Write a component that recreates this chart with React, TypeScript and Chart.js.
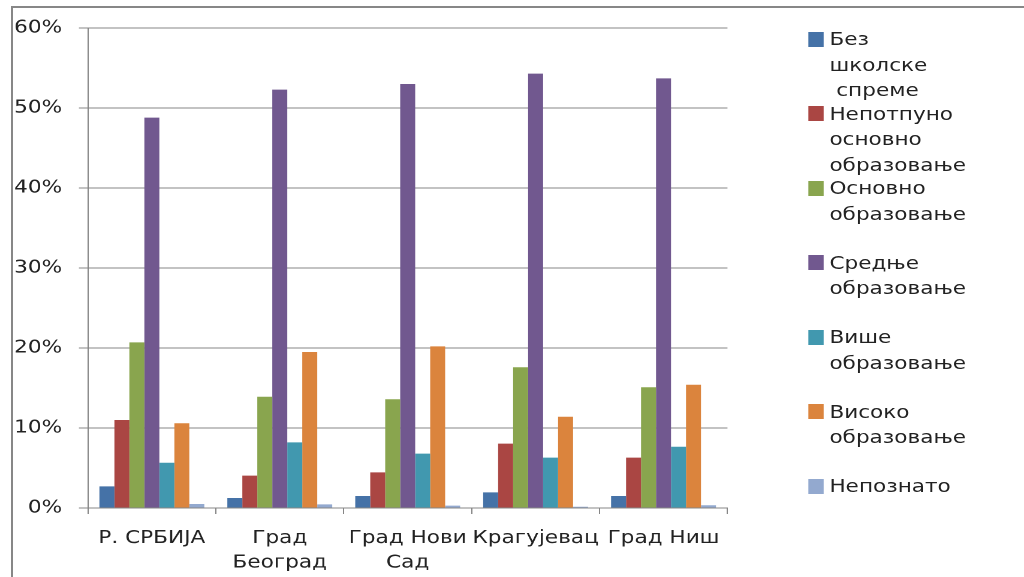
import React, { useEffect, useRef } from "react";
import { Chart, registerables } from "chart.js";

Chart.register(...registerables);

// ---- data ----
const categories: string[][] = [
  ["Р. СРБИЈА"],
  ["Град", "Београд"],
  ["Град Нови", "Сад"],
  ["Крагујевац"],
  ["Град Ниш"],
];
const seriesNames: string[] = [
  "Без\nшколске\n спреме",
  "Непотпуно\nосновно\nобразовање",
  "Основно\nобразовање",
  "Средње\nобразовање",
  "Више\nобразовање",
  "Високо\nобразовање",
  "Непознато",
];
const seriesColors: string[] = [
  "#4572A7",
  "#AA4643",
  "#89A54E",
  "#71588F",
  "#4198AF",
  "#DB843D",
  "#93A9CF",
];
const bezSkolske = [2.7, 1.25, 1.5, 1.95, 1.5];
const nepotpunoOsnovno = [11.0, 4.05, 4.45, 8.05, 6.3];
const osnovno = [20.7, 13.9, 13.6, 17.6, 15.1];
const srednje = [48.8, 52.3, 53.0, 54.3, 53.7];
const vise = [5.65, 8.2, 6.8, 6.3, 7.65];
const visoko = [10.6, 19.5, 20.2, 11.4, 15.4];
const nepoznato = [0.5, 0.45, 0.3, 0.15, 0.35];
const seriesValues = [bezSkolske, nepotpunoOsnovno, osnovno, srednje, vise, visoko, nepoznato];
const yMax = 60;
const yStep = 10;

// ---- layout ----
const W = 854;
const H = 577;
const S = 1024 / W;
const FONT = '"DejaVu Sans", Verdana, sans-serif';
const GRID = "#868686";
const TEXT = "#222";

const framePlugin = {
  id: "frame",
  beforeDraw(chart: any) {
    const ctx = chart.ctx;
    ctx.save();
    ctx.strokeStyle = "#878787";
    ctx.lineWidth = 2;
    ctx.beginPath();
    ctx.moveTo(10, H);
    ctx.lineTo(10, 7);
    ctx.lineTo(W, 7);
    ctx.stroke();
    ctx.restore();
  },
};

export default function App() {
  const ref = useRef<HTMLCanvasElement>(null);
  useEffect(() => {
    document.body.style.margin = "0";
    const chart = new Chart(ref.current as HTMLCanvasElement, {
      type: "bar",
      data: {
        labels: categories as any,
        datasets: seriesValues.map((d, i) => ({
          label: seriesNames[i].replace(/\n\s*/g, " "),
          data: d,
          backgroundColor: seriesColors[i],
          borderWidth: 0,
          categoryPercentage: 0.82,
          barPercentage: 1,
        })),
      },
      options: {
        responsive: false,
        animation: false,
        devicePixelRatio: 2,
        layout: { padding: { left: 0, right: W - 606.7, top: 28, bottom: 0 } },
        plugins: { legend: { display: false }, tooltip: { enabled: false } },
        scales: {
          x: {
            grid: {
              display: true,
              drawOnChartArea: false,
              drawTicks: true,
              tickLength: 6,
              color: GRID,
              offset: true,
            },
            border: { color: GRID },
            ticks: {
              color: TEXT,
              font: { family: FONT, size: 18, lineHeight: 1.36 },
              padding: 12,
              maxRotation: 0,
              autoSkip: false,
            },
            afterFit: (s: any) => {
              s.height = H - 508;
            },
          },
          y: {
            min: 0,
            max: yMax,
            ticks: {
              stepSize: yStep,
              color: TEXT,
              font: { family: FONT, size: 18 },
              padding: 14,
              callback: (v: any) => `${v}%`,
            },
            grid: { color: GRID, tickLength: 7.5 },
            border: { color: GRID },
            afterFit: (s: any) => {
              s.width = 73.3;
            },
          },
        },
      },
      plugins: [framePlugin],
    });
    return () => chart.destroy();
  }, []);

  return (
    <div style={{ width: 1024, height: H, overflow: "hidden", position: "relative", background: "#fff" }}>
      <div
        style={{
          position: "absolute",
          left: 0,
          top: 0,
          width: W,
          height: H,
          transform: `scaleX(${S})`,
          transformOrigin: "0 0",
        }}
      >
        <canvas ref={ref} width={W} height={H} style={{ width: W, height: H, display: "block" }} />
        {seriesNames.map((name, i) => {
          const c = 39 + 74.5 * i;
          return (
            <React.Fragment key={i}>
              <div
                style={{
                  position: "absolute",
                  left: 674,
                  top: c - 7.5,
                  width: 12.5,
                  height: 15,
                  background: seriesColors[i],
                }}
              />
              <div
                style={{
                  position: "absolute",
                  left: 691.7,
                  top: c - 12.75,
                  font: `18px ${FONT}`,
                  lineHeight: "25.5px",
                  whiteSpace: "pre",
                  color: TEXT,
                }}
              >
                {name}
              </div>
            </React.Fragment>
          );
        })}
      </div>
    </div>
  );
}
